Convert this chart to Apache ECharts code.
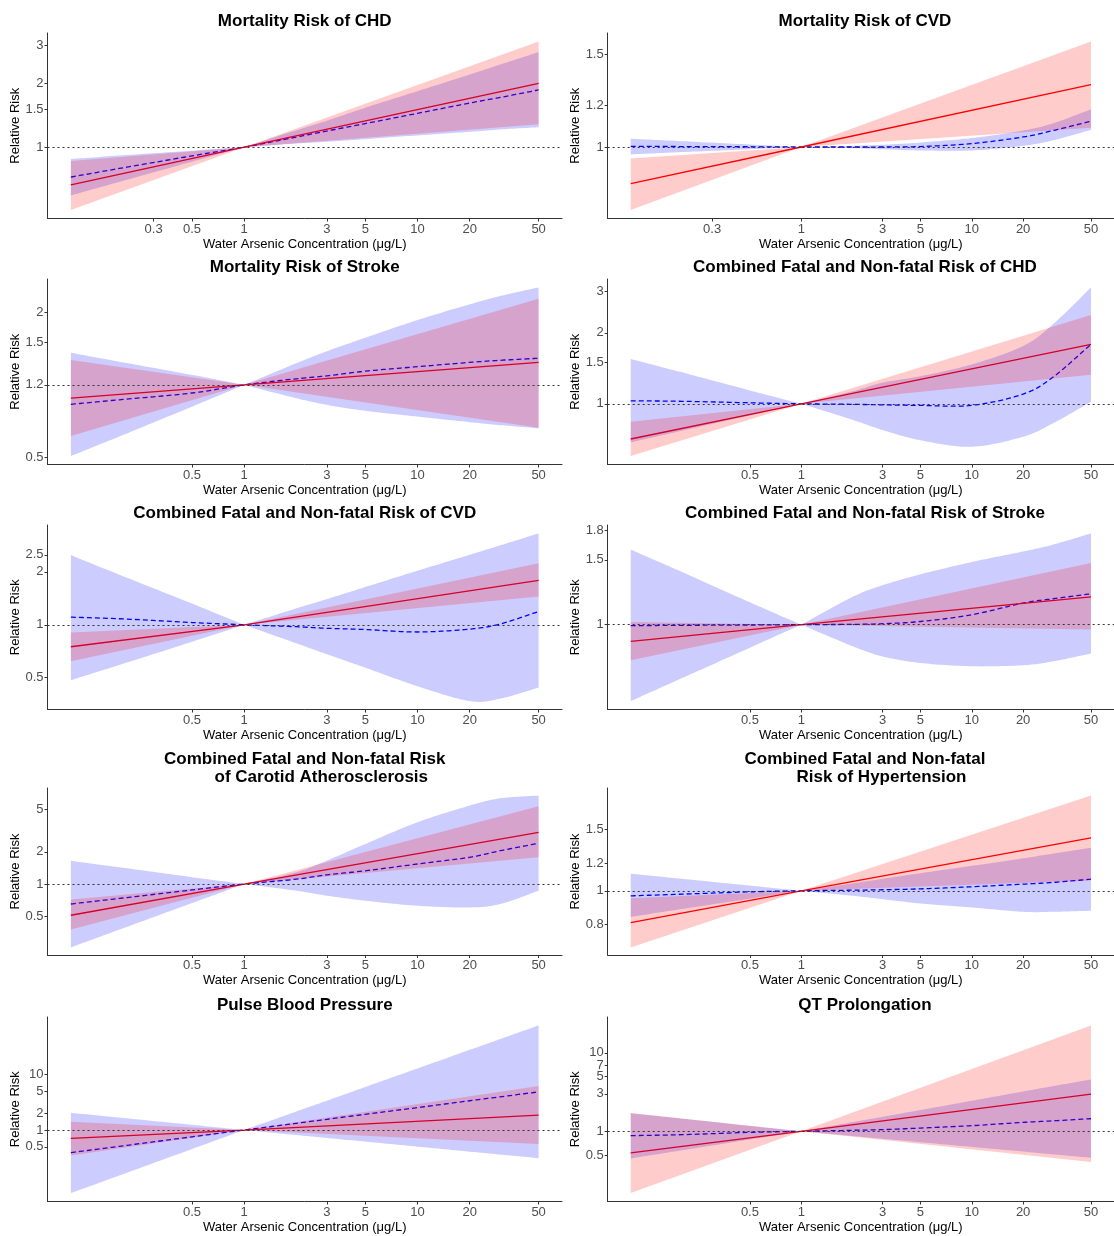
<!DOCTYPE html>
<html>
<head>
<meta charset="utf-8">
<script src="https://cdn.jsdelivr.net/npm/echarts@6/dist/echarts.min.js"></script>
<style>html,body{margin:0;padding:0;background:#fff}#chart{width:1114px;height:1236px}</style>
</head>
<body>
<div id="chart"></div>
<script>
// ---------------- DATA ----------------
const xGrid = [0.1, 0.2, 0.5, 1, 2, 3, 5, 10, 20, 30, 50];
const xLine = [0.1, 1, 50];

// 1 Mortality Risk of CHD
const chdMortRedEst = [0.665, 1, 1.99];
const chdMortRedLo = [0.507, 1, 1.28];
const chdMortRedHi = [0.86, 1, 3.13];
const chdMortBlueEst = [0.724, 0.80, 0.91, 1, 1.115, 1.19, 1.29, 1.44, 1.61, 1.71, 1.855];
const chdMortBlueLo = [0.594, 0.695, 0.855, 1, 1.04, 1.06, 1.09, 1.135, 1.18, 1.21, 1.24];
const chdMortBlueHi = [0.88, 0.916, 0.963, 1, 1.20, 1.33, 1.53, 1.83, 2.19, 2.44, 2.79];
// 2 Mortality Risk of CVD
const cvdMortRedEst = [0.851, 1, 1.315];
const cvdMortRedLo = [0.758, 1, 1.088];
const cvdMortRedHi = [0.951, 1, 1.59];
const cvdMortBlueEst = [1.003, 1.002, 1.001, 1, 1.0, 1.0, 1.002, 1.015, 1.045, 1.075, 1.12];
const cvdMortBlueLo = [0.968, 0.978, 0.99, 1, 0.995, 0.99, 0.985, 0.985, 1.005, 1.03, 1.078];
const cvdMortBlueHi = [1.037, 1.026, 1.011, 1, 1.005, 1.01, 1.02, 1.04, 1.075, 1.11, 1.18];
// 3 Mortality Risk of Stroke
const strokeMortRedEst = [0.88, 1, 1.24];
const strokeMortRedLo = [0.613, 1, 0.664];
const strokeMortRedHi = [1.27, 1, 2.28];
const strokeMortBlueEst = [0.83, 0.87, 0.925, 1, 1.06, 1.09, 1.14, 1.19, 1.24, 1.265, 1.29];
const strokeMortBlueLo = [0.506, 0.619, 0.812, 1, 0.88, 0.826, 0.78, 0.738, 0.70, 0.68, 0.66];
const strokeMortBlueHi = [1.36, 1.24, 1.10, 1, 1.23, 1.38, 1.57, 1.86, 2.16, 2.34, 2.54];
// 4 Combined Fatal and Non-fatal Risk of CHD
const chdAllRedEst = [0.709, 1, 1.79];
const chdAllRedLo = [0.60, 1, 1.33];
const chdAllRedHi = [0.84, 1, 2.38];
const chdAllBlueEst = [1.03, 1.025, 1.01, 1, 0.995, 0.99, 0.985, 0.985, 1.10, 1.30, 1.79];
const chdAllBlueLo = [0.686, 0.769, 0.893, 1, 0.855, 0.774, 0.70, 0.657, 0.725, 0.827, 1.02];
const chdAllBlueHi = [1.55, 1.36, 1.14, 1, 1.13, 1.23, 1.31, 1.47, 1.76, 2.18, 3.12];
// 5 Combined Fatal and Non-fatal Risk of CVD
const cvdAllRedEst = [0.75, 1, 1.79];
const cvdAllRedLo = [0.62, 1, 1.45];
const cvdAllRedHi = [0.905, 1, 2.24];
const cvdAllBlueEst = [1.105, 1.08, 1.03, 1, 0.975, 0.955, 0.94, 0.91, 0.945, 1.01, 1.19];
const cvdAllBlueLo = [0.484, 0.60, 0.80, 1, 0.784, 0.68, 0.57, 0.447, 0.368, 0.38, 0.44];
const cvdAllBlueHi = [2.49, 1.89, 1.32, 1, 1.24, 1.40, 1.64, 2.03, 2.50, 2.83, 3.31];
// 6 Combined Fatal and Non-fatal Risk of Stroke
const strokeAllRedEst = [0.901, 1, 1.19];
const strokeAllRedLo = [0.80, 1, 0.97];
const strokeAllRedHi = [1.017, 1, 1.47];
const strokeAllBlueEst = [0.994, 0.996, 0.998, 1, 1.002, 1.006, 1.02, 1.064, 1.145, 1.176, 1.213];
const strokeAllBlueLo = [0.62, 0.716, 0.866, 1, 0.874, 0.82, 0.787, 0.771, 0.776, 0.795, 0.835];
const strokeAllBlueHi = [1.60, 1.39, 1.15, 1, 1.19, 1.28, 1.37, 1.48, 1.58, 1.65, 1.77];
// 7 Carotid Atherosclerosis
const carotidRedEst = [0.51, 1, 3.05];
const carotidRedLo = [0.376, 1, 1.78];
const carotidRedHi = [0.718, 1, 5.35];
const carotidBlueEst = [0.65, 0.74, 0.88, 1, 1.11, 1.22, 1.33, 1.54, 1.78, 2.05, 2.41];
const carotidBlueLo = [0.255, 0.385, 0.663, 1, 0.866, 0.777, 0.698, 0.626, 0.604, 0.65, 0.866];
const carotidBlueHi = [1.65, 1.42, 1.16, 1, 1.29, 1.66, 2.37, 3.79, 5.43, 6.35, 6.73];
// 8 Hypertension
const htnRedEst = [0.81, 1, 1.42];
const htnRedLo = [0.687, 1, 1.07];
const htnRedHi = [0.952, 1, 1.88];
const htnBlueEst = [0.967, 0.978, 0.993, 1, 1.004, 1.007, 1.013, 1.027, 1.045, 1.057, 1.08];
const htnBlueLo = [0.841, 0.886, 0.949, 1, 0.967, 0.946, 0.919, 0.895, 0.87, 0.87, 0.876];
const htnBlueHi = [1.12, 1.083, 1.035, 1, 1.05, 1.083, 1.124, 1.18, 1.24, 1.28, 1.33];
// 9 Pulse Blood Pressure
const pulseRedEst = [0.71, 1, 1.86];
const pulseRedLo = [0.347, 1, 0.56];
const pulseRedHi = [1.41, 1, 6.2];
const pulseBlueEst = [0.393, 0.52, 0.755, 1, 1.32, 1.56, 1.92, 2.53, 3.36, 3.95, 4.85];
const pulseBlueLo = [0.0735, 0.161, 0.456, 1, 0.813, 0.72, 0.619, 0.503, 0.409, 0.362, 0.311];
const pulseBlueHi = [2.04, 1.65, 1.24, 1, 2.16, 3.37, 5.95, 12.8, 27.6, 43.2, 76];
// 10 QT Prolongation
const qtRedEst = [0.532, 1, 2.97];
const qtRedLo = [0.163, 1, 0.405];
const qtRedHi = [1.71, 1, 22.4];
const qtBlueEst = [0.88, 0.906, 0.97, 1, 1.03, 1.05, 1.10, 1.18, 1.30, 1.36, 1.45];
const qtBlueLo = [0.451, 0.573, 0.787, 1, 0.872, 0.804, 0.726, 0.633, 0.552, 0.508, 0.46];
const qtBlueHi = [1.70, 1.45, 1.17, 1, 1.31, 1.53, 1.87, 2.45, 3.22, 3.77, 4.59];

// tick values and labels
const xTicksA = [0.3, 0.5, 1, 3, 5, 10, 20, 50];
const xTickLabelsA = ['0.3', '0.5', '1', '3', '5', '10', '20', '50'];
const xTicksB = [0.3, 1, 3, 5, 10, 20, 50];
const xTickLabelsB = ['0.3', '1', '3', '5', '10', '20', '50'];
const xTicksC = [0.5, 1, 3, 5, 10, 20, 50];
const xTickLabelsC = ['0.5', '1', '3', '5', '10', '20', '50'];

const yTicksChdMort = [1, 1.5, 2, 3];         const yLabelsChdMort = ['1', '1.5', '2', '3'];
const yTicksCvdMort = [1, 1.2, 1.5];          const yLabelsCvdMort = ['1', '1.2', '1.5'];
const yTicksStrokeMort = [0.5, 1, 1.5, 2];    const yLabelsStrokeMort = ['0.5', '1.2', '1.5', '2'];
const yTicksChdAll = [1, 1.5, 2, 3];          const yLabelsChdAll = ['1', '1.5', '2', '3'];
const yTicksCvdAll = [0.5, 1, 2, 2.5];        const yLabelsCvdAll = ['0.5', '1', '2', '2.5'];
const yTicksStrokeAll = [1, 1.5, 1.8];        const yLabelsStrokeAll = ['1', '1.5', '1.8'];
const yTicksCarotid = [0.5, 1, 2, 5];         const yLabelsCarotid = ['0.5', '1', '2', '5'];
const yTicksHtn = [0.8, 1, 1.2, 1.5];         const yLabelsHtn = ['0.8', '1', '1.2', '1.5'];
const yTicksPulse = [0.5, 1, 2, 5, 10];       const yLabelsPulse = ['0.5', '1', '2', '5', '10'];
const yTicksQt = [0.5, 1, 3, 5, 7, 10];       const yLabelsQt = ['0.5', '1', '3', '5', '7', '10'];

const titles = [
  'Mortality Risk of CHD',
  'Mortality Risk of CVD',
  'Mortality Risk of Stroke',
  'Combined Fatal and Non-fatal Risk of CHD',
  'Combined Fatal and Non-fatal Risk of CVD',
  'Combined Fatal and Non-fatal Risk of Stroke',
  'Combined Fatal and Non-fatal Risk\n       of Carotid Atherosclerosis',
  'Combined Fatal and Non-fatal\n       Risk of Hypertension',
  'Pulse Blood Pressure',
  'QT Prolongation'
];
const xAxisTitle = 'Water Arsenic Concentration (\u03bcg/L)';
const yAxisTitle = 'Relative Risk';

// ---------------- BUILD ----------------
const panels = [
  {redEst: chdMortRedEst, redLo: chdMortRedLo, redHi: chdMortRedHi, blueEst: chdMortBlueEst, blueLo: chdMortBlueLo, blueHi: chdMortBlueHi, xT: xTicksA, xL: xTickLabelsA, yT: yTicksChdMort, yL: yLabelsChdMort},
  {redEst: cvdMortRedEst, redLo: cvdMortRedLo, redHi: cvdMortRedHi, blueEst: cvdMortBlueEst, blueLo: cvdMortBlueLo, blueHi: cvdMortBlueHi, xT: xTicksB, xL: xTickLabelsB, yT: yTicksCvdMort, yL: yLabelsCvdMort},
  {redEst: strokeMortRedEst, redLo: strokeMortRedLo, redHi: strokeMortRedHi, blueEst: strokeMortBlueEst, blueLo: strokeMortBlueLo, blueHi: strokeMortBlueHi, xT: xTicksC, xL: xTickLabelsC, yT: yTicksStrokeMort, yL: yLabelsStrokeMort},
  {redEst: chdAllRedEst, redLo: chdAllRedLo, redHi: chdAllRedHi, blueEst: chdAllBlueEst, blueLo: chdAllBlueLo, blueHi: chdAllBlueHi, xT: xTicksC, xL: xTickLabelsC, yT: yTicksChdAll, yL: yLabelsChdAll},
  {redEst: cvdAllRedEst, redLo: cvdAllRedLo, redHi: cvdAllRedHi, blueEst: cvdAllBlueEst, blueLo: cvdAllBlueLo, blueHi: cvdAllBlueHi, xT: xTicksC, xL: xTickLabelsC, yT: yTicksCvdAll, yL: yLabelsCvdAll},
  {redEst: strokeAllRedEst, redLo: strokeAllRedLo, redHi: strokeAllRedHi, blueEst: strokeAllBlueEst, blueLo: strokeAllBlueLo, blueHi: strokeAllBlueHi, xT: xTicksC, xL: xTickLabelsC, yT: yTicksStrokeAll, yL: yLabelsStrokeAll},
  {redEst: carotidRedEst, redLo: carotidRedLo, redHi: carotidRedHi, blueEst: carotidBlueEst, blueLo: carotidBlueLo, blueHi: carotidBlueHi, xT: xTicksC, xL: xTickLabelsC, yT: yTicksCarotid, yL: yLabelsCarotid},
  {redEst: htnRedEst, redLo: htnRedLo, redHi: htnRedHi, blueEst: htnBlueEst, blueLo: htnBlueLo, blueHi: htnBlueHi, xT: xTicksC, xL: xTickLabelsC, yT: yTicksHtn, yL: yLabelsHtn},
  {redEst: pulseRedEst, redLo: pulseRedLo, redHi: pulseRedHi, blueEst: pulseBlueEst, blueLo: pulseBlueLo, blueHi: pulseBlueHi, xT: xTicksC, xL: xTickLabelsC, yT: yTicksPulse, yL: yLabelsPulse},
  {redEst: qtRedEst, redLo: qtRedLo, redHi: qtRedHi, blueEst: qtBlueEst, blueLo: qtBlueLo, blueHi: qtBlueHi, xT: xTicksC, xL: xTickLabelsC, yT: yTicksQt, yL: yLabelsQt}
];

const L = v => Math.log10(v);
const FONT = "'Liberation Sans', Arial, sans-serif";
const colLeft = [47.5, 607.7];
const plotW = 514.5;
const rowTop = [33, 279, 525, 788, 1017];
const rowBottom = [218.5, 464.5, 709.5, 955, 1201.5];

const RED = '#ff0000', BLUE = '#0000ff';
const RED_FILL = 'rgba(255,0,0,0.2)', BLUE_FILL = 'rgba(0,0,255,0.2)';

function padRange(vals) {
  const lv = vals.map(L);
  const lo = Math.min.apply(null, lv), hi = Math.max.apply(null, lv);
  const p = (hi - lo) * 0.05;
  return [lo - p, hi + p];
}
function fmt(ticks, labels) {
  return function (v) {
    for (let k = 0; k < ticks.length; k++) {
      if (Math.abs(L(ticks[k]) - v) < 1e-6) return labels[k];
    }
    return '';
  };
}
// interleave tick order so the end-label overlap check never drops closely spaced labels
function interleave(a) {
  const even = a.filter((_, k) => k % 2 === 0), odd = a.filter((_, k) => k % 2 === 1);
  return even.concat(odd);
}
// Catmull-Rom rendering of pixel points (smooth drawing between read points)
function spline(P) {
  if (P.length < 3) return P.slice();
  const out = [];
  for (let i = 0; i < P.length - 1; i++) {
    const p0 = P[Math.max(i - 1, 0)], p1 = P[i], p2 = P[i + 1], p3 = P[Math.min(i + 2, P.length - 1)];
    const steps = 16;
    for (let s = 0; s < steps; s++) {
      const t = s / steps, t2 = t * t, t3 = t2 * t;
      const f = k => 0.5 * ((2 * p1[k]) + (-p0[k] + p2[k]) * t + (2 * p0[k] - 5 * p1[k] + 4 * p2[k] - p3[k]) * t2 + (-p0[k] + 3 * p1[k] - 3 * p2[k] + p3[k]) * t3);
      out.push([f(0), f(1)]);
    }
  }
  out.push(P[P.length - 1]);
  return out;
}
// split at the pinch point (RR = 1 at x = 1), smooth each side
function splitSpline(P, xs) {
  const k = xs.indexOf(1);
  if (k <= 0 || k >= xs.length - 1) return spline(P);
  const a = spline(P.slice(0, k + 1)), b = spline(P.slice(k));
  return a.concat(b.slice(1));
}
function bandSeries(i, xs, lo, hi, fill) {
  const pts = xs.map((x, j) => [L(x), L(lo[j]), L(hi[j])]);
  return {
    type: 'custom', xAxisIndex: i, yAxisIndex: i, silent: true, z: 3,
    data: pts, encode: {x: 0, y: [1, 2]},
    renderItem: function (params, api) {
      if (params.dataIndex !== 0) return null;
      const upper = splitSpline(pts.map(p => api.coord([p[0], p[2]])), xs);
      const lower = splitSpline(pts.map(p => api.coord([p[0], p[1]])), xs).reverse();
      return {type: 'polygon', shape: {points: upper.concat(lower)}, style: {fill: fill, stroke: null}};
    }
  };
}
function curveSeries(i, xs, ys, color, dash) {
  const pts = xs.map((x, j) => [L(x), L(ys[j])]);
  return {
    type: 'custom', xAxisIndex: i, yAxisIndex: i, silent: true, z: 2,
    data: pts, encode: {x: 0, y: 1},
    renderItem: function (params, api) {
      if (params.dataIndex !== 0) return null;
      const P = spline(pts.map(p => api.coord(p)));
      return {type: 'polyline', shape: {points: P},
        style: {stroke: color, lineWidth: 1.3, fill: null, lineDash: dash || null}};
    }
  };
}

const grid = [], xAxis = [], yAxis = [], series = [], title = [];
const xr = padRange(xGrid.concat(xLine));

panels.forEach((p, i) => {
  const row = Math.floor(i / 2), col = i % 2;
  const top = rowTop[row], h = rowBottom[row] - rowTop[row];
  const left = colLeft[col];
  grid.push({left: left, top: top, width: plotW, height: h, containLabel: false});

  const yr = padRange(p.redLo.concat(p.redHi, p.blueLo, p.blueHi, p.redEst, p.blueEst));
  const yVals = interleave(p.yT.map(L));
  xAxis.push({
    gridIndex: i, type: 'value', min: xr[0], max: xr[1],
    axisLine: {show: true, onZero: false, lineStyle: {color: '#333', width: 1}},
    axisTick: {show: true, customValues: p.xT.map(L), length: 3, lineStyle: {color: '#333', width: 1}},
    axisLabel: {show: true, customValues: p.xT.map(L), formatter: fmt(p.xT, p.xL), color: '#4d4d4d', fontSize: 13, margin: 4, fontFamily: FONT, showMinLabel: true, showMaxLabel: true, hideOverlap: false},
    splitLine: {show: false},
    name: xAxisTitle, nameLocation: 'middle', nameGap: 19,
    nameTextStyle: {color: '#000', fontSize: 13, fontFamily: FONT}
  });
  yAxis.push({
    gridIndex: i, type: 'value', min: yr[0], max: yr[1],
    axisLine: {show: true, onZero: false, lineStyle: {color: '#333', width: 1}},
    axisTick: {show: true, customValues: yVals, length: 3, lineStyle: {color: '#333', width: 1}},
    axisLabel: {show: true, customValues: yVals, formatter: fmt(p.yT, p.yL), color: '#4d4d4d', fontSize: 13, margin: 4, fontFamily: FONT, showMinLabel: true, showMaxLabel: true, hideOverlap: false},
    splitLine: {show: false},
    name: yAxisTitle, nameLocation: 'middle', nameGap: 20,
    nameTextStyle: {color: '#000', fontSize: 13, fontFamily: FONT}
  });

  // lines drawn under the translucent bands, as in the reference
  series.push({
    type: 'line', xAxisIndex: i, yAxisIndex: i, silent: true, z: 2,
    data: xLine.map((x, j) => [L(x), L(p.redEst[j])]),
    showSymbol: false, symbol: 'none',
    lineStyle: {color: RED, width: 1.3}
  });
  series.push(curveSeries(i, xGrid, p.blueEst, BLUE, [5, 3]));
  series.push(bandSeries(i, xGrid, p.blueLo, p.blueHi, BLUE_FILL));
  series.push(bandSeries(i, xLine, p.redLo, p.redHi, RED_FILL));
  // reference line at RR = 1
  series.push({
    type: 'line', xAxisIndex: i, yAxisIndex: i, silent: true, z: 4, data: [],
    markLine: {
      silent: true, symbol: 'none', animation: false,
      label: {show: false},
      lineStyle: {color: '#333', width: 1, type: [2, 3]},
      data: [{yAxis: L(1)}]
    }
  });

  const nLines = titles[i].split('\n').length;
  title.push({
    text: titles[i], left: left + plotW / 2,
    top: nLines > 1 ? top - 13 - 7 - 18 : top - 13 - 8,
    textAlign: 'center', padding: 0,
    textStyle: {fontSize: 17, fontWeight: 'bold', color: '#000', fontFamily: FONT, lineHeight: 18}
  });
});

const chart = echarts.init(document.getElementById('chart'), null, {renderer: 'canvas'});
chart.setOption({
  animation: false,
  backgroundColor: '#ffffff',
  title: title, grid: grid, xAxis: xAxis, yAxis: yAxis, series: series
});
</script>
</body>
</html>
